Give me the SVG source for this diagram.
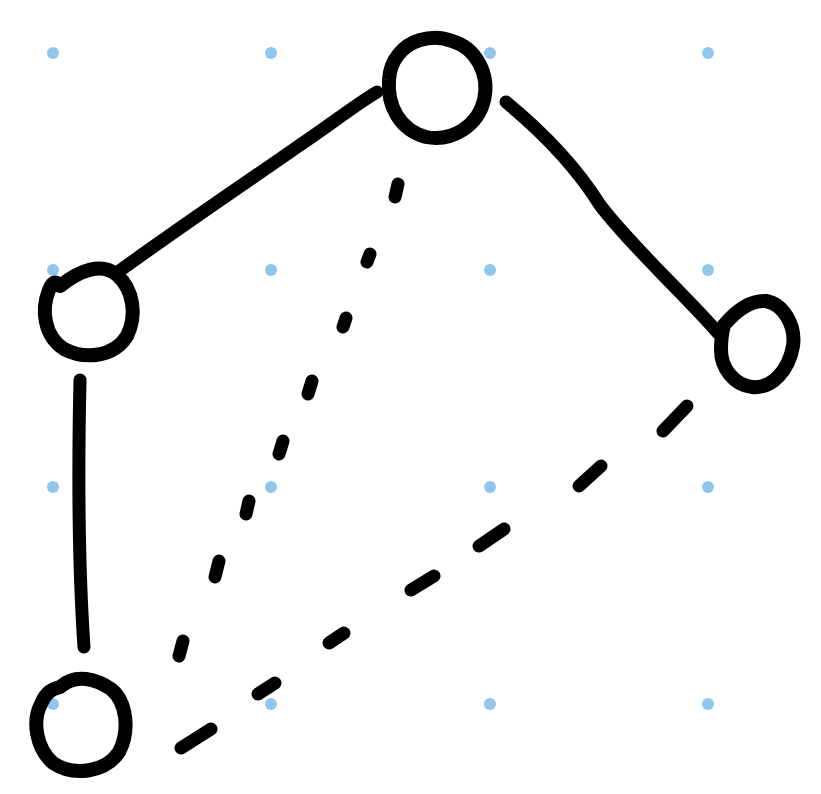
<svg xmlns="http://www.w3.org/2000/svg" width="821" height="794" viewBox="0 0 821 794">
<style>
.dot{fill:#8ec6ee}
.node{fill:none;stroke:#000;stroke-width:14;stroke-linecap:round;stroke-linejoin:round}
.edge{fill:none;stroke:#000;stroke-width:13;stroke-linecap:round;stroke-linejoin:round}
</style>
<rect width="821" height="794" fill="#fff"/>
<g id="grid">
<circle class="dot" cx="53" cy="53" r="6"/><circle class="dot" cx="271" cy="53" r="6"/><circle class="dot" cx="490" cy="53" r="6"/><circle class="dot" cx="708" cy="53" r="6"/>
<circle class="dot" cx="53" cy="270" r="6"/><circle class="dot" cx="271" cy="270" r="6"/><circle class="dot" cx="490" cy="270" r="6"/><circle class="dot" cx="708" cy="270" r="6"/>
<circle class="dot" cx="53" cy="487" r="6"/><circle class="dot" cx="271" cy="487" r="6"/><circle class="dot" cx="490" cy="487" r="6"/><circle class="dot" cx="708" cy="487" r="6"/>
<circle class="dot" cx="53" cy="704" r="6"/><circle class="dot" cx="271" cy="704" r="6"/><circle class="dot" cx="490" cy="704" r="6"/><circle class="dot" cx="708" cy="704" r="6"/>
</g>
<g id="connectors">
<path class="edge" d="M118,272 C190,220 250,180 300,145 C330,125 355,105 377,92"/>
<path class="edge" d="M506,102 C540,130 575,165 600,205 C630,245 690,300 718,333"/>
<path class="edge" d="M80,380 C78,470 78,560 84,647"/>
<path class="edge" d="M398,184 L395,197 M370,254 L367,262 M346,318 L343,327 M312,381 L308,394 M283,441 L279,454 M249,501 L246,514 M219,561 L215,577 M183,641 L179,656"/>
<path class="edge" d="M687,406 L663,431 M601,466 L579,486 M504,529 L479,546 M434,576 L411,590 M344,633 L329,643 M275,683 L258,694 M211,729 L181,748"/>
</g>
<g id="node-top">
<path class="node" d="M420,40 C403,45 390,60 389,80 C387,106 400,130 426,137 C452,142 478,126 484,100 C490,74 476,48 452,41 C440,36 430,37 420,40 Z"/>
</g>
<g id="node-left">
<path class="node" d="M60,286 C80,270 102,262 117,275 C134,290 137,316 127,336 C114,357 85,360 64,349 C44,336 41,310 49,290 C52,282 56,280 60,286 Z"/>
</g>
<g id="node-right">
<path class="node" d="M724,325 C735,312 750,300 766,301 C783,304 796,325 793,346 C789,369 773,389 752,387 C734,385 721,368 721,350 C721,340 722,332 724,325 Z"/>
</g>
<g id="node-bottom">
<path class="node" d="M60,687 C76,673 96,679 111,689 C127,702 130,731 119,752 C106,772 74,777 53,763 C36,748 32,721 41,704 C46,692 52,689 60,687 Z"/>
</g>
</svg>
